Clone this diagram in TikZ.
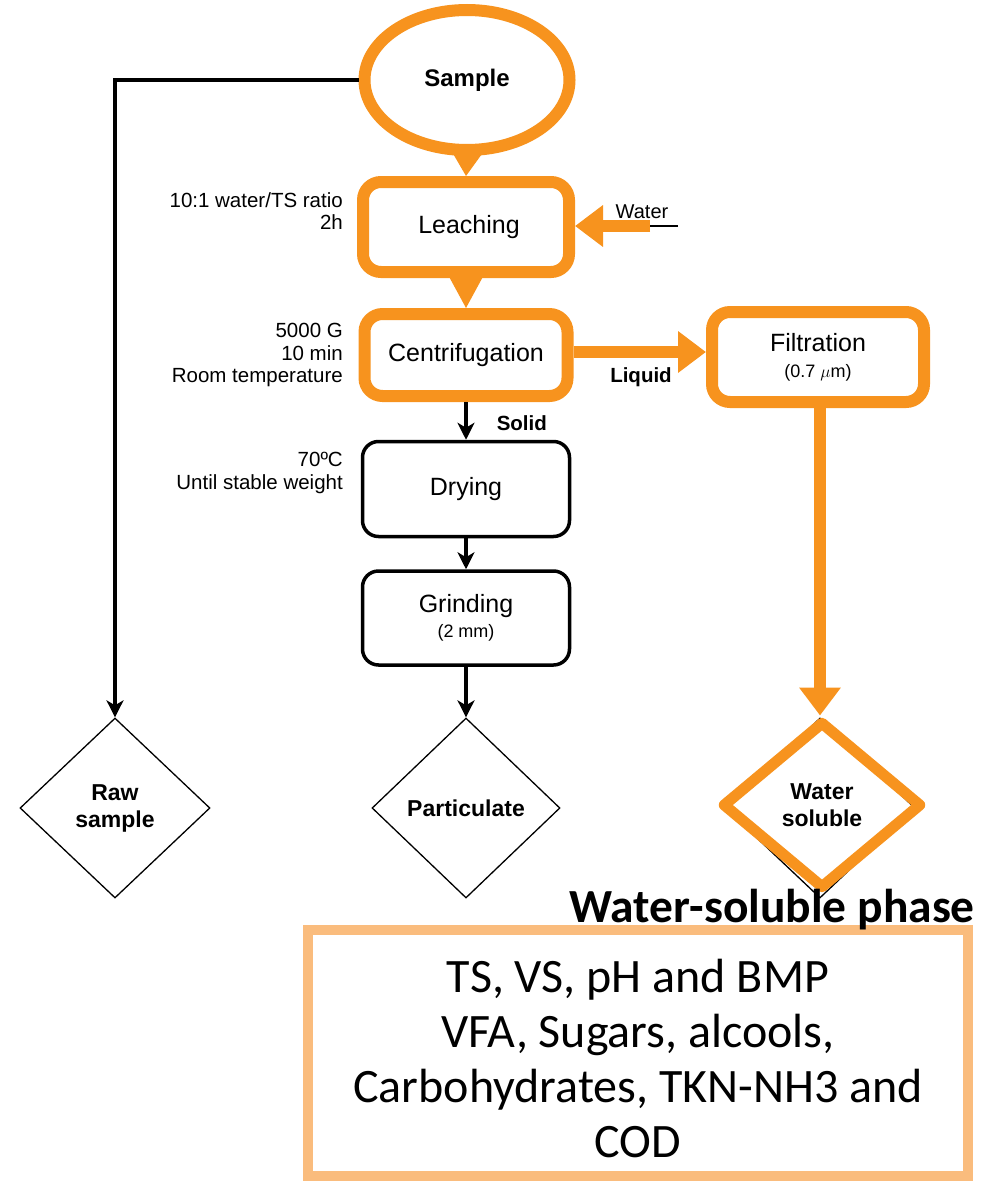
\documentclass[tikz,border=0pt]{standalone}
\usepackage{fontspec}
\setmainfont{Liberation Sans}
\newfontfamily\calfont{Carlito}
\usetikzlibrary{shapes.geometric,arrows.meta}
\definecolor{orng}{RGB}{247,147,30}
\definecolor{lorng}{RGB}{250,188,125}
\begin{document}
\begin{tikzpicture}[x=1pt,y=-1pt,
  obox/.style={draw=orng,line width=12pt,rounded corners=18pt,align=center,font=\fontsize{25}{26}\selectfont},
  shbox/.style={draw=black,line width=2pt,rounded corners=18pt},
  bbox/.style={draw=black,line width=3.5pt,rounded corners=16pt,align=center,font=\fontsize{25}{26}\selectfont},
  dia/.style={shape=diamond,draw=black,line width=1.3pt,inner sep=0pt,align=center,font=\fontsize{23}{27}\selectfont\bfseries},
  ann/.style={align=right,anchor=east,font=\fontsize{20.5}{22.5}\selectfont,inner sep=0pt},
  lab/.style={font=\fontsize{20.5}{22}\selectfont\bfseries,inner sep=0pt},
  blk/.style={draw=black,line width=3.5pt,-{Stealth[length=17pt,width=17pt,inset=5pt]}},
  oarr/.style={draw=orng,line width=12pt,-{Triangle[length=28pt,width=40pt]}},
  otri/.style={draw=orng,line width=2pt,-{Triangle[length=#1,width=32pt]}}
]
\useasboundingbox (0,0) rectangle (992,1183);

% shadows of the original black drawing
\node[draw=black,line width=2pt,ellipse,minimum width=205pt,minimum height=140pt] (sampsh) at (470,82) {};
\node[shbox,minimum width=206pt,minimum height=90pt] (leachsh) at (467,228) {};
\node[shbox,minimum width=203pt,minimum height=82pt] (centsh) at (470,356) {};
\node[shbox,minimum width=212pt,minimum height=90pt] (filtsh) at (822,359) {};
\node[dia,minimum width=190pt,minimum height=180pt] (wsolsh) at (820,808) {};

% sample
\node[draw=orng,fill=white,line width=12pt,ellipse,minimum width=205pt,minimum height=140pt,font=\fontsize{24}{26}\selectfont\bfseries] (sample) at (467,80) {\raisebox{-3pt}{Sample}};

% process boxes
\node[obox,fill=white,minimum width=206pt,minimum height=90pt] (leach) at (466,227) {\hspace*{6pt}Leaching};
\node[obox,fill=white,minimum width=203pt,minimum height=82pt] (cent) at (466,355) {Centrifugation};
\node[obox,fill=white,minimum width=212pt,minimum height=90pt] (filt) at (818,357) {Filtration\\[0pt]{\fontsize{18}{20}\selectfont(0.7 $\mu$m)}};
\node[bbox,minimum width=207pt,minimum height=95pt] (dry) at (466,489) {\raisebox{-4pt}{Drying}};
\node[bbox,minimum width=207pt,minimum height=94pt] (grind) at (466,618) {Grinding\\[-1pt]{\fontsize{18}{20}\selectfont(2 mm)}};

% end products
\node[dia,minimum width=190pt,minimum height=180pt] (raw) at (115,808) {Raw\\sample};
\node[dia,minimum width=188pt,minimum height=180pt] (part) at (466,808) {Particulate};
\node[dia,draw=orng,line width=11pt,line join=round,minimum width=200pt,minimum height=168pt] (wsol) at (822,805) {Water\\soluble};

% annotations
\node[ann] (a1) at (343,211) {10:1 water/TS ratio\\2h};
\node[ann] (a2) at (343,355) {5000 G\\10 min\\Room temperature};
\node[ann] (a3) at (343,473) {70ºC\\Until stable weight};

% connectors
\coordinate (rawcorner) at (115,80);
\draw[blk] (sample.west) -- (rawcorner) -- (raw.north);
\draw[otri=25pt] (sample.south) -- (leach.north);
\draw[otri=30pt] (leach.south) -- (cent.north);
\draw[blk] (cent.south) -- (dry.north) node[lab,pos=0.55,anchor=west,xshift=29pt] (solid) {Solid};
\draw[blk] (dry.south) -- (grind.north);
\draw[blk] (grind.south) -- (part.north);
\coordinate (wend) at (678,226);
\coordinate (wmid) at (650,226);
\draw[black,line width=2.5pt] (wend) -- (wmid);
\draw[oarr] (wmid) -- (leach.east |- wmid);
\node[font=\fontsize{20}{22}\selectfont,inner sep=0pt] (wlab) at (642,212) {Water};
\draw[oarr] (cent.east |- 0,352) -- (filt.west |- 0,352);
\node[lab] (liq) at (641,377) {Liquid};
\draw[oarr] (filt.south -| 820,0) -- (wsol.north -| 820,0);

% bottom result box
\node[draw=lorng,line width=10pt,minimum width=660pt,minimum height=246pt] (res) at (638,1053) {};
\node[align=center,inner sep=0pt,font=\calfont\fontsize{48}{55}\selectfont] (restxt) at (638,1058) {TS, VS, pH and BMP\\VFA, Sugars, alcools,\\Carbohydrates, TKN-NH3 and\\COD};
\node[anchor=base east,inner sep=0pt,font=\calfont\fontsize{47.5}{50}\selectfont\bfseries] (phase) at (975,922) {Water-soluble phase};
\end{tikzpicture}
\end{document}
